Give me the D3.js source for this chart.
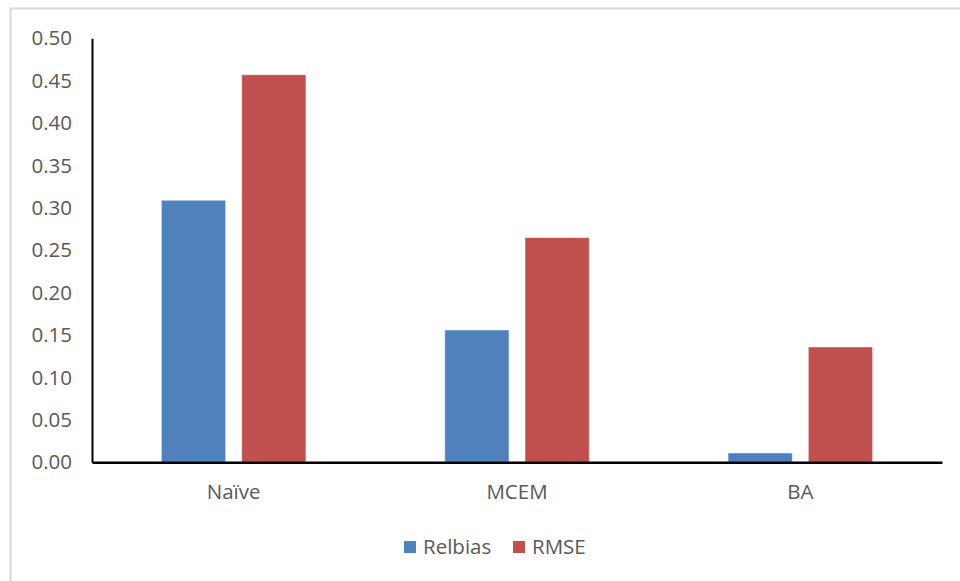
<!DOCTYPE html>
<html>
<head>
<meta charset="utf-8">
<script src="https://cdn.jsdelivr.net/npm/d3@7"></script>
<style>
  html, body { margin: 0; padding: 0; background: #fff; }
  svg { display: block; }
  text { font-family: "Open Sans", "Liberation Sans", sans-serif; fill: #595959; }
</style>
</head>
<body>
<svg id="chart" width="960" height="581"></svg>
<script>
// Method comparison: relative bias and RMSE
const categories = ["Naïve", "MCEM", "BA"];
const seriesNames = ["Relbias", "RMSE"];
const relbias = [0.309, 0.156, 0.011];
const rmse = [0.457, 0.265, 0.136];
const yTicks = [0, 0.05, 0.10, 0.15, 0.20, 0.25, 0.30, 0.35, 0.40, 0.45, 0.50];
const colors = ["#4F81BD", "#C0504D"];
const fontSize = "20.5px";

const svg = d3.select("#chart");
const W = 960, H = 581;

// chart area frame
svg.append("rect")
  .attr("x", 10.5).attr("y", 8.5)
  .attr("width", W).attr("height", H)
  .attr("fill", "none").attr("stroke", "#d9d9d9").attr("stroke-width", 2);

const plot = { left: 92, right: 942, top: 38.3, bottom: 462.3 };

const y = d3.scaleLinear().domain([0, 0.5]).range([plot.bottom, plot.top]);
const x0 = d3.scaleBand().domain(categories).range([plot.left, plot.right]).paddingInner(0.49).paddingOuter(0.245);
const x1 = d3.scaleBand().domain(seriesNames).range([0, x0.bandwidth()]).paddingInner(0.2);

const rows = categories.map((c, i) => ({ cat: c, values: [relbias[i], rmse[i]] }));

// bars
const groups = svg.append("g").selectAll("g").data(rows).join("g")
  .attr("transform", d => `translate(${x0(d.cat)},0)`);
groups.selectAll("rect")
  .data(d => d.values.map((v, j) => ({ key: seriesNames[j], v, j })))
  .join("rect")
  .attr("x", d => x1(d.key))
  .attr("y", d => y(d.v))
  .attr("width", x1.bandwidth())
  .attr("height", d => y(0) - y(d.v))
  .attr("fill", d => colors[d.j])
  .attr("stroke", "rgba(255,255,255,0.45)")
  .attr("stroke-width", 1);

// y axis
const yAxis = d3.axisLeft(y).tickValues(yTicks).tickFormat(d3.format(".2f")).tickSize(0).tickPadding(20);
const gy = svg.append("g").attr("transform", `translate(${plot.left},0)`).call(yAxis);
gy.select(".domain").attr("stroke", "#000").attr("stroke-width", 2);
gy.selectAll("text").style("font-size", fontSize).attr("fill", "#595959");

// x axis
const xAxis = d3.axisBottom(x0).tickSize(0).tickPadding(22);
const gx = svg.append("g").attr("transform", `translate(0,${plot.bottom})`).call(xAxis);
gx.select(".domain").attr("stroke", "#000").attr("stroke-width", 2.5);
gx.selectAll("text").style("font-size", fontSize).attr("fill", "#595959");

// legend
const legendItems = [
  { name: seriesNames[0], color: colors[0], x: 404 },
  { name: seriesNames[1], color: colors[1], x: 513 }
];
const lg = svg.append("g").selectAll("g").data(legendItems).join("g")
  .attr("transform", d => `translate(${d.x},547)`);
lg.append("rect").attr("x", 0).attr("y", -6).attr("width", 12).attr("height", 12).attr("fill", d => d.color);
lg.append("text").attr("x", 19).attr("y", 0).attr("dy", "0.35em")
  .style("font-size", fontSize).text(d => d.name);
</script>
</body>
</html>
